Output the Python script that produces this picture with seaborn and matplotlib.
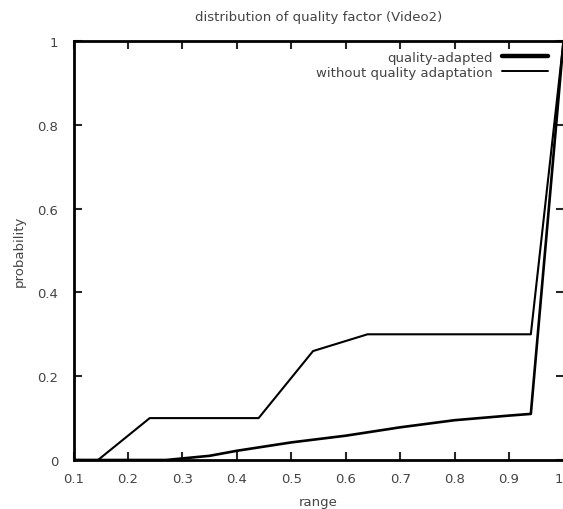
import matplotlib
matplotlib.use("Agg")
import matplotlib.pyplot as plt
from matplotlib.lines import Line2D
import pandas as pd
import seaborn as sns

# Cumulative distribution of the quality factor for Video2
adapted_range = [0.10, 0.27, 0.35, 0.40, 0.50, 0.60, 0.70, 0.80, 0.90, 0.94, 1.00]
adapted_prob = [0.0, 0.0, 0.010, 0.022, 0.042, 0.058, 0.078, 0.095, 0.106, 0.110, 1.0]

plain_range = [0.10, 0.145, 0.24, 0.44, 0.54, 0.64, 0.94, 1.00]
plain_prob = [0.0, 0.0, 0.10, 0.10, 0.26, 0.30, 0.30, 1.0]

x_ticks = [0.1, 0.2, 0.3, 0.4, 0.5, 0.6, 0.7, 0.8, 0.9, 1.0]
x_tick_labels = ["0.1", "0.2", "0.3", "0.4", "0.5", "0.6", "0.7", "0.8", "0.9", "1"]
y_ticks = [0.0, 0.2, 0.4, 0.6, 0.8, 1.0]
y_tick_labels = ["0", "0.2", "0.4", "0.6", "0.8", "1"]

sns.set_style("ticks")
plt.rcParams["font.family"] = ["DejaVu Sans"]

df_adapted = pd.DataFrame({"range": adapted_range, "probability": adapted_prob})
df_plain = pd.DataFrame({"range": plain_range, "probability": plain_prob})

fig = plt.figure(figsize=(5.63, 5.10), dpi=100)
left_px, right_px, top_px, bottom_px = 73.5, 563.5, 42, 461
ax = fig.add_axes([left_px / 563, 1 - bottom_px / 510,
                   (right_px - left_px) / 563, (bottom_px - top_px) / 510])

sns.lineplot(data=df_plain, x="range", y="probability", ax=ax, color="black",
             linewidth=1.5, sort=False, estimator=None)
sns.lineplot(data=df_adapted, x="range", y="probability", ax=ax, color="black",
             linewidth=1.9, sort=False, estimator=None)

ax.set_xlim(0.1, 1.0)
ax.set_ylim(0.0, 1.0)
ax.set_xticks(x_ticks)
ax.set_xticklabels(x_tick_labels)
ax.set_yticks(y_ticks)
ax.set_yticklabels(y_tick_labels)
# keep the last x label inside the canvas
ax.get_xticklabels()[-1].set_horizontalalignment("right")

text_color = "#444444"
fs = 9.5
ax.tick_params(direction="in", length=6, width=1.5, top=True, right=True,
               labelsize=fs, labelcolor=text_color)
ax.tick_params(axis="x", pad=9)
ax.tick_params(axis="y", pad=11)
for spine in ax.spines.values():
    spine.set_visible(True)
    spine.set_linewidth(2.0)
    spine.set_color("black")

ax.set_xlabel("range", fontsize=fs, color=text_color, labelpad=7)
ax.set_ylabel("probability", fontsize=fs, color=text_color, labelpad=8)

fig.text((left_px + right_px) / 2 / 563, 1 - 17 / 510,
         "distribution of quality factor (Video2)",
         ha="center", va="center", fontsize=fs, color=text_color)

handles = [
    Line2D([], [], color="black", linewidth=3.2),
    Line2D([], [], color="black", linewidth=1.4),
]
ax.legend(handles, ["quality-adapted", "without quality adaptation"],
          loc="upper right", bbox_to_anchor=(0.984, 0.995), frameon=False,
          markerfirst=False, handlelength=3.5, handletextpad=0.7,
          labelspacing=0.15, fontsize=fs, labelcolor=text_color,
          borderaxespad=0.2)

fig.savefig("out.png", dpi=100)
